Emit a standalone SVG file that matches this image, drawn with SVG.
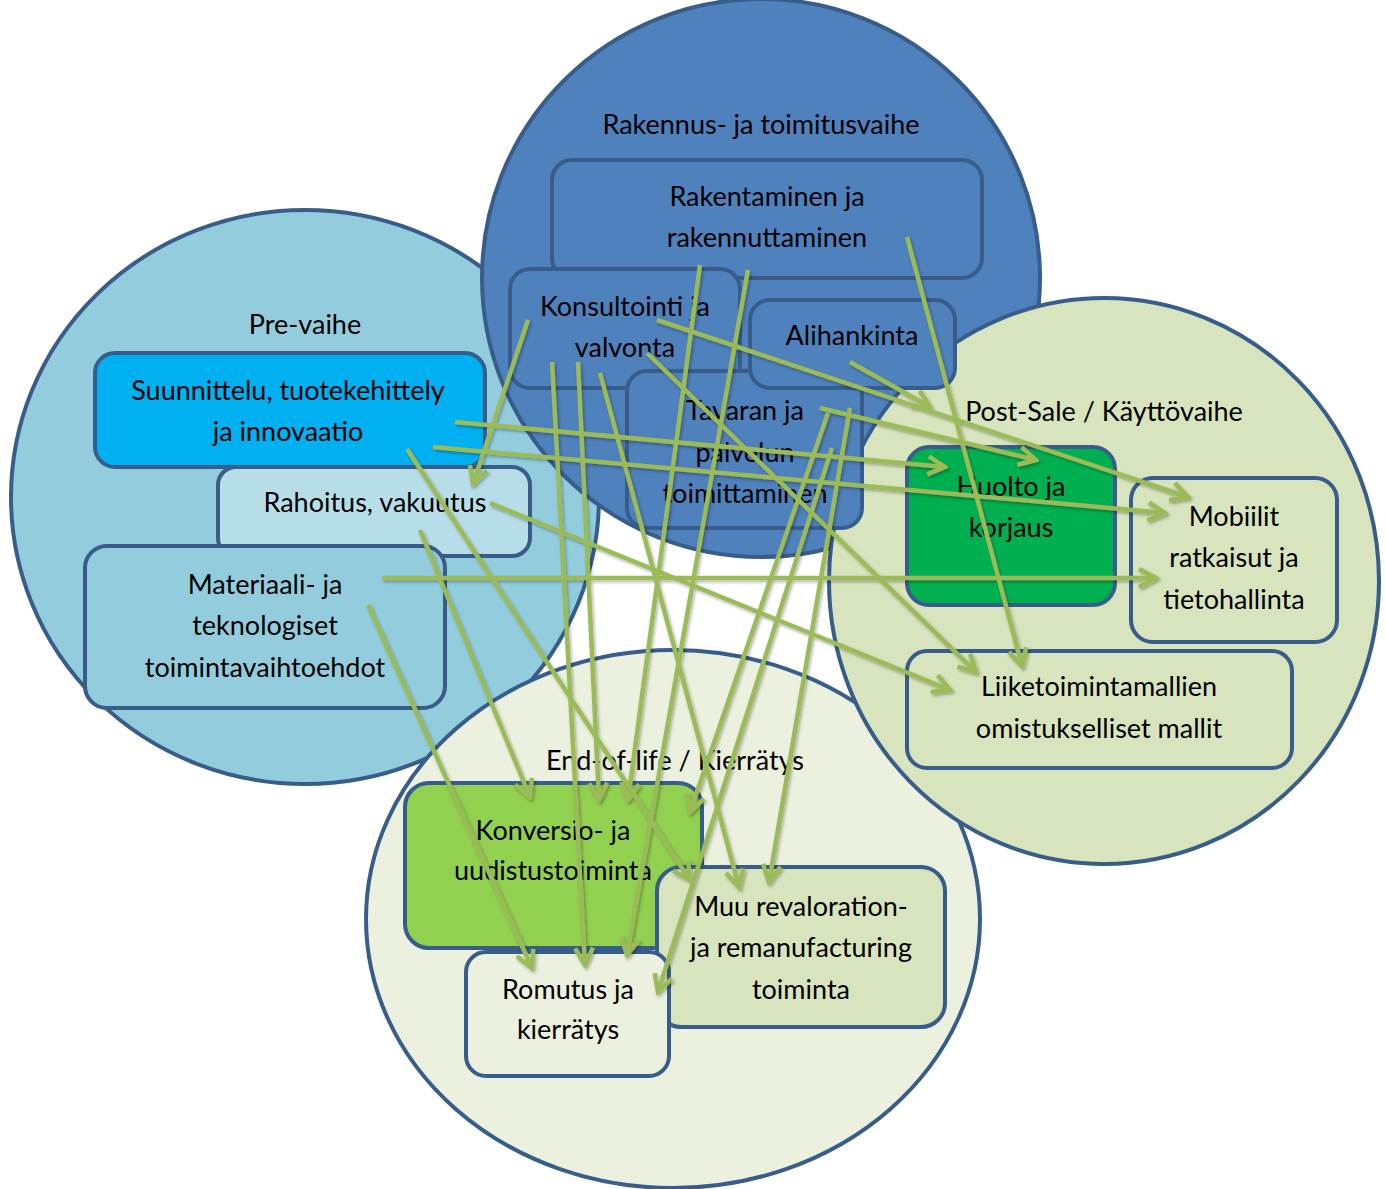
<svg xmlns="http://www.w3.org/2000/svg" width="1386" height="1189" viewBox="0 0 1386 1189">
<defs>
<style>
.ph{stroke:#385D8A;stroke-width:4}
.bx{stroke:#385D8A;stroke-width:4}
text{font-family:Lato,"Open Sans","Liberation Sans",sans-serif;font-size:27px;fill:#000;text-anchor:middle}
.cn line{stroke:#9BBB59;stroke-width:4.5;fill:none}
</style>
<marker id="ah" viewBox="0 0 24 24" refX="21" refY="12" markerWidth="24" markerHeight="24" markerUnits="userSpaceOnUse" orient="auto">
<path d="M4,3 L21,12 L4,21" fill="none" stroke="#9BBB59" stroke-width="4.5"/>
</marker>
<filter id="sh" x="-10%" y="-10%" width="120%" height="120%">
<feDropShadow dx="1.5" dy="2" stdDeviation="1.5" flood-color="#000" flood-opacity="0.3"/>
</filter>
</defs>
<rect width="1386" height="1189" fill="#fff"/>

<g id="phase-pre">
<ellipse class="ph" cx="305" cy="497" rx="294" ry="287" fill="#93CDDD"/>
<text x="305" y="334">Pre-vaihe</text>
</g>
<g id="phase-build">
<ellipse class="ph" cx="761" cy="278" rx="279" ry="279" fill="#4F81BD"/>
<text x="761" y="134">Rakennus- ja toimitusvaihe</text>
</g>
<g id="phase-eol">
<ellipse class="ph" cx="673" cy="919" rx="307" ry="269" fill="#EBF1DE"/>
<text x="675" y="770">End-of-life / Kierrätys</text>
</g>
<g id="phase-post">
<ellipse class="ph" cx="1104" cy="581" rx="275" ry="283" fill="#D7E4BD"/>
<text x="1104" y="421">Post-Sale / Käyttövaihe</text>
</g>

<g id="n-rakentaminen">
<rect class="bx" x="552" y="160" width="430" height="118" rx="20" fill="#4F81BD"/>
<text x="767" y="206">Rakentaminen ja</text>
<text x="767" y="247">rakennuttaminen</text>
</g>
<g id="n-konsultointi">
<rect class="bx" x="510" y="269" width="230" height="119" rx="20" fill="#4F81BD"/>
<text x="625" y="316">Konsultointi ja</text>
<text x="625" y="357">valvonta</text>
</g>
<g id="n-tavaran">
<rect class="bx" x="627" y="371" width="235" height="157" rx="20" fill="#4F81BD"/>
<text x="745" y="420">Tavaran ja</text>
<text x="745" y="462">palvelun</text>
<text x="745" y="503">toimittaminen</text>
</g>
<g id="n-alihankinta">
<rect class="bx" x="750" y="300" width="205" height="88" rx="20" fill="#4F81BD"/>
<text x="852" y="345">Alihankinta</text>
</g>

<g id="n-rahoitus">
<rect class="bx" x="218" y="467" width="312" height="89" rx="18" fill="#B7DDE8"/>
<text x="375" y="512">Rahoitus, vakuutus</text>
</g>
<g id="n-suunnittelu">
<rect class="bx" x="95" y="353" width="390" height="114" rx="20" fill="#00B0F0"/>
<text x="288" y="400">Suunnittelu, tuotekehittely</text>
<text x="288" y="441">ja innovaatio</text>
</g>
<g id="n-materiaali">
<rect class="bx" x="85" y="546" width="360" height="162" rx="22" fill="#93CDDD"/>
<text x="265" y="594">Materiaali- ja</text>
<text x="265" y="635">teknologiset</text>
<text x="265" y="677">toimintavaihtoehdot</text>
</g>

<g id="n-huolto">
<rect class="bx" x="907" y="447" width="208" height="158" rx="22" fill="#00B050"/>
<text x="1011" y="496">Huolto ja</text>
<text x="1011" y="537">korjaus</text>
</g>
<g id="n-mobiilit">
<rect class="bx" x="1131" y="478" width="206" height="164" rx="22" fill="#D7E4BD"/>
<text x="1234" y="526">Mobiilit</text>
<text x="1234" y="567">ratkaisut ja</text>
<text x="1234" y="609">tietohallinta</text>
</g>
<g id="n-liiketoiminta">
<rect class="bx" x="907" y="651" width="385" height="117" rx="20" fill="#D7E4BD"/>
<text x="1099" y="696">Liiketoimintamallien</text>
<text x="1099" y="738">omistukselliset mallit</text>
</g>

<g id="n-konversio">
<rect class="bx" x="405" y="783" width="297" height="165" rx="24" fill="#92D050"/>
<text x="553" y="840">Konversio- ja</text>
<text x="553" y="880">uudistustoiminta</text>
</g>
<g id="n-muu">
<rect class="bx" x="657" y="867" width="288" height="160" rx="24" fill="#D7E4BD"/>
<text x="801" y="916">Muu revaloration-</text>
<text x="801" y="957">ja remanufacturing</text>
<text x="801" y="999">toiminta</text>
</g>
<g id="n-romutus">
<rect class="bx" x="466" y="952" width="203" height="124" rx="20" fill="#EBF1DE"/>
<text x="568" y="999">Romutus ja</text>
<text x="568" y="1039">kierrätys</text>
</g>

<g id="connectors" class="cn" filter="url(#sh)">
<line x1="528" y1="320" x2="473" y2="484" marker-end="url(#ah)"/>
<line x1="455" y1="422" x2="945" y2="467" marker-end="url(#ah)"/>
<line x1="433" y1="447" x2="1165" y2="513" marker-end="url(#ah)"/>
<line x1="407" y1="449" x2="690" y2="880" marker-end="url(#ah)"/>
<line x1="490" y1="503" x2="950" y2="690" marker-end="url(#ah)"/>
<line x1="420" y1="530" x2="530" y2="797" marker-end="url(#ah)"/>
<line x1="382" y1="578" x2="1156" y2="578" marker-end="url(#ah)"/>
<line x1="368" y1="605" x2="532" y2="968" marker-end="url(#ah)"/>
<line x1="552" y1="362" x2="585" y2="965" marker-end="url(#ah)"/>
<line x1="578" y1="362" x2="599" y2="800" marker-end="url(#ah)"/>
<line x1="600" y1="373" x2="739" y2="887" marker-end="url(#ah)"/>
<line x1="657" y1="320" x2="1188" y2="497" marker-end="url(#ah)"/>
<line x1="647" y1="353" x2="976" y2="672" marker-end="url(#ah)"/>
<line x1="700" y1="265" x2="628" y2="800" marker-end="url(#ah)"/>
<line x1="748" y1="270" x2="627" y2="955" marker-end="url(#ah)"/>
<line x1="907" y1="237" x2="1022" y2="666" marker-end="url(#ah)"/>
<line x1="850" y1="362" x2="930" y2="407" marker-end="url(#ah)"/>
<line x1="820" y1="408" x2="1036" y2="460" marker-end="url(#ah)"/>
<line x1="828" y1="413" x2="690" y2="812" marker-end="url(#ah)"/>
<line x1="850" y1="408" x2="769" y2="882" marker-end="url(#ah)"/>
<line x1="832" y1="448" x2="658" y2="992" marker-end="url(#ah)"/>
</g>
</svg>
